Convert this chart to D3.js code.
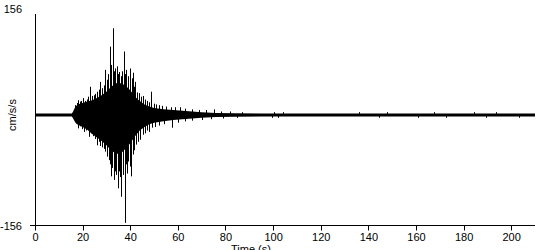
<!DOCTYPE html>
<html>
<head>
<meta charset="utf-8">
<script src="https://cdn.jsdelivr.net/npm/d3@7"></script>
<style>
  body { margin: 0; background: #fff; }
  svg { display: block; }
  text { font-family: Arial, "Liberation Sans", sans-serif; font-size: 11px; fill: #000; }
</style>
</head>
<body>
<script>
// accelerogram, values (cm/s/s)
var xTicks = [0, 20, 40, 60, 80, 100, 120, 140, 160, 180, 200];
var yLimit = 156;

// dense black core of the trace (envelope)
var coreT  = [0, 15.5, 16, 17, 18, 20, 22, 24, 26, 28, 30, 32, 34, 36, 38, 40, 42, 44, 46, 48, 50, 54, 58, 62, 66, 70, 76, 84, 95, 210];
var coreHi = [2, 2, 5, 12, 15, 17, 19, 21, 24, 28, 33, 40, 45, 45, 42, 35, 26, 20, 15, 12, 10, 8, 7, 6, 5, 4, 3, 2.5, 2, 2];
var coreLo = [-2, -2, -5, -11, -14, -17, -21, -27, -32, -37, -43, -50, -55, -55, -48, -40, -30, -22, -17, -13, -11, -9, -7, -6, -5, -4, -3, -2.5, -2, -2];

// individual positive peaks
var upT = [16.3, 17.0, 17.6, 18.2, 18.8, 19.5, 20.3, 21.0, 21.7, 22.4, 23.2, 23.9, 24.6, 25.3, 26.0, 26.7, 27.4, 28.1, 28.8, 29.5, 30.2, 30.8, 31.3, 32.0, 32.7, 33.2, 33.7, 34.4, 34.9, 35.4, 36.0, 36.7, 37.3, 37.8, 38.3, 39.0, 40.0, 40.6, 41.1, 41.7, 42.2, 43.0, 43.8, 44.5, 45.2, 46.0, 47.0, 48.0, 48.9, 50.0, 51.0, 52.0, 53.5, 55.0, 57.0, 59.0, 61.0, 63.0, 66.0, 69.0, 72.0, 75.0, 78.0, 82.0, 87.0, 100.5, 104.0, 136.0, 148.0, 167.6, 184.4, 193.7];
var upV = [8, 14, 17, 21, 19, 20, 24, 20, 22, 26, 40, 27, 28, 30, 33, 36, 47, 38, 42, 64, 50, 58, 97, 71, 123, 62, 66, 69, 58, 61, 55, 62, 90, 58, 64, 55, 66, 52, 60, 40, 47, 32, 31, 26, 27, 22, 20, 18, 33, 16, 15, 14, 13, 12, 11, 11, 11, 9, 8, 7, 7, 8, 5, 5, 4, 4, 4, 4, 4, 4, 4, 4];

// individual negative peaks
var dnT = [16.5, 17.2, 18.2, 19.0, 19.8, 20.7, 21.5, 22.5, 23.4, 24.2, 25.1, 26.0, 26.7, 27.5, 28.3, 29.0, 29.6, 30.2, 31.2, 31.6, 32.0, 32.5, 33.0, 33.5, 34.0, 34.7, 35.2, 35.7, 36.3, 36.9, 37.6, 38.1, 38.5, 39.2, 40.0, 40.4, 41.0, 41.6, 42.5, 43.3, 44.3, 45.2, 46.2, 47.0, 47.8, 49.0, 50.5, 52.0, 54.0, 57.6, 60.0, 63.0, 66.0, 70.0, 74.0, 79.0, 85.0, 99.5, 102.0, 144.6, 161.0, 172.6, 189.5, 203.4];
var dnV = [-7, -12, -19, -16, -20, -24, -22, -31, -26, -30, -34, -43, -38, -44, -46, -48, -52, -59, -64, -70, -87, -75, -92, -80, -85, -104, -80, -88, -116, -85, -153, -70, -83, -66, -73, -87, -56, -50, -42, -38, -35, -28, -26, -22, -24, -18, -17, -15, -13, -18, -11, -9, -8, -7, -6, -5, -4, -4, -4, -4, -4, -4, -4, -4];

var W = 550, H = 250;
var margin = {left: 35, right: 15, top: 5, bottom: 25};

var svg = d3.select("body").append("svg")
  .attr("width", W)
  .attr("height", H);

var x = d3.scaleLinear().domain([0, 210]).range([margin.left, W - margin.right]);
var y = d3.scaleLinear().domain([-yLimit, yLimit]).range([H - margin.bottom, margin.top]);

// core envelope
var core = coreT.map(function(t, i) { return {t: t, hi: coreHi[i], lo: coreLo[i]}; });
svg.append("path")
  .datum(core)
  .attr("fill", "#000")
  .attr("d", d3.area()
    .x(d => x(d.t))
    .y0(d => y(d.lo))
    .y1(d => y(d.hi)));

// spikes
var spikes = upT.map((t, i) => ({t: t, v: upV[i]}))
  .concat(dnT.map((t, i) => ({t: t, v: dnV[i]})));
svg.append("g")
  .selectAll("line")
  .data(spikes)
  .enter().append("line")
  .attr("x1", d => Math.round(x(d.t)) + 0.5)
  .attr("x2", d => Math.round(x(d.t)) + 0.5)
  .attr("y1", y(0))
  .attr("y2", d => y(d.v))
  .attr("stroke", "#000")
  .attr("stroke-width", 1);

// x axis
var gx = svg.append("g")
  .attr("transform", "translate(0," + (y(-yLimit) + 0.5) + ")");
gx.append("line")
  .attr("x1", margin.left - 5).attr("x2", x(210))
  .attr("stroke", "#000");
gx.selectAll("line.tick")
  .data(xTicks)
  .enter().append("line")
  .attr("class", "tick")
  .attr("x1", d => Math.round(x(d)) + 0.5)
  .attr("x2", d => Math.round(x(d)) + 0.5)
  .attr("y1", 0).attr("y2", 5)
  .attr("stroke", "#000");
gx.selectAll("text")
  .data(xTicks)
  .enter().append("text")
  .attr("x", d => x(d) + 0.5)
  .attr("y", 15)
  .attr("text-anchor", "middle")
  .text(d => d);

svg.append("text")
  .attr("x", 251)
  .attr("y", 253)
  .attr("text-anchor", "middle")
  .text("Time (s)");

// y axis
svg.append("line")
  .attr("x1", margin.left + 0.5).attr("x2", margin.left + 0.5)
  .attr("y1", 14).attr("y2", y(-yLimit))
  .attr("stroke", "#000");
svg.append("text")
  .attr("x", 22).attr("y", 12.5)
  .attr("text-anchor", "end")
  .text(yLimit);
svg.append("text")
  .attr("x", 22).attr("y", 229.5)
  .attr("text-anchor", "end")
  .text(-yLimit);

svg.append("text")
  .attr("transform", "translate(16," + y(0) + ") rotate(-90)")
  .attr("text-anchor", "middle")
  .text("cm/s/s");
</script>
</body>
</html>
